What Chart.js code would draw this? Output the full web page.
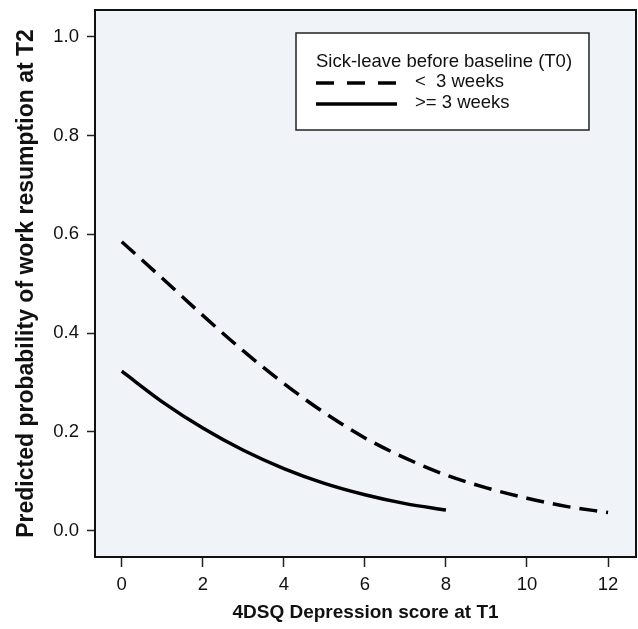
<!DOCTYPE html>
<html>
<head>
<meta charset="utf-8">
<script src="https://cdn.jsdelivr.net/npm/chart.js@4"></script>
<style>
  html, body { margin: 0; padding: 0; background: #fff; }
  #wrap { width: 638px; height: 629px; }
</style>
</head>
<body>
<div id="wrap"><canvas id="myChart" width="638" height="629"></canvas></div>
<script>
// depression score (T1)
const scoresShort = [0, 1, 2, 3, 4, 5, 6, 7, 8, 9, 10, 11, 12];
const probShort = [0.585, 0.511, 0.436, 0.364, 0.298, 0.239, 0.188, 0.147, 0.113, 0.087, 0.066, 0.049, 0.037];
const scoresLong = [0, 1, 2, 3, 4, 5, 6, 7, 8];
const probLong = [0.323, 0.261, 0.208, 0.163, 0.126, 0.096, 0.073, 0.055, 0.042];
const xTicks = [0, 2, 4, 6, 8, 10, 12];
const yTicks = [0.0, 0.2, 0.4, 0.6, 0.8, 1.0];
const legendTitle = 'Sick-leave before baseline (T0)';
const seriesLabels = ['<  3 weeks', '>= 3 weeks'];

const FONT = 'Arial, "Liberation Sans", sans-serif';

const toPoints = (xs, ys) => xs.map((x, i) => ({ x: x, y: ys[i] }));

// background + frame around the plot area, and the boxed legend
const framePlugin = {
  id: 'frame',
  beforeDraw(chart) {
    const { ctx, chartArea: a } = chart;
    ctx.save();
    ctx.fillStyle = '#f0f4f8';
    ctx.fillRect(a.left, a.top, a.right - a.left, a.bottom - a.top);
    ctx.restore();
  },
  afterDraw(chart) {
    const { ctx, chartArea: a } = chart;
    ctx.save();
    ctx.strokeStyle = '#111';
    ctx.lineWidth = 2;
    ctx.strokeRect(a.left, a.top, a.right - a.left, a.bottom - a.top);

    // legend box
    const bx = 296, by = 33, bw = 293, bh = 97;
    ctx.fillStyle = '#fff';
    ctx.fillRect(bx, by, bw, bh);
    ctx.lineWidth = 1.5;
    ctx.strokeStyle = '#222';
    ctx.strokeRect(bx, by, bw, bh);
    ctx.fillStyle = '#111';
    ctx.font = '18.5px ' + FONT;
    ctx.textBaseline = 'middle';
    ctx.fillText(legendTitle, 316, 62);
    ctx.lineWidth = 3.5;
    ctx.strokeStyle = '#000';
    ctx.setLineDash([18, 13]);
    ctx.beginPath(); ctx.moveTo(316, 83); ctx.lineTo(397, 83); ctx.stroke();
    ctx.setLineDash([]);
    ctx.beginPath(); ctx.moveTo(316, 104); ctx.lineTo(397, 104); ctx.stroke();
    ctx.fillText(seriesLabels[0], 415, 82);
    ctx.fillText(seriesLabels[1], 415, 103);
    ctx.restore();
  }
};

new Chart(document.getElementById('myChart').getContext('2d'), {
  type: 'line',
  data: {
    datasets: [{
      label: seriesLabels[0],
      data: toPoints(scoresShort, probShort),
      borderColor: '#000',
      borderWidth: 3.5,
      borderDash: [18, 9],
      pointRadius: 0,
      cubicInterpolationMode: 'monotone',
      fill: false
    }, {
      label: seriesLabels[1],
      data: toPoints(scoresLong, probLong),
      borderColor: '#000',
      borderWidth: 3.5,
      pointRadius: 0,
      cubicInterpolationMode: 'monotone',
      fill: false
    }]
  },
  options: {
    responsive: false,
    animation: false,
    devicePixelRatio: 1,
    layout: { padding: { top: 10, right: 2, left: 0, bottom: 0 } },
    plugins: {
      legend: { display: false },
      tooltip: { enabled: false }
    },
    scales: {
      x: {
        type: 'linear',
        min: -0.66,
        max: 12.69,
        afterBuildTicks: (s) => { s.ticks = xTicks.map(v => ({ value: v })); },
        afterFit: (s) => { s.height = 72; s.paddingLeft = 0; s.paddingRight = 0; },
        grid: { display: true, drawOnChartArea: false, drawTicks: true, tickLength: 10, tickColor: '#222', tickWidth: 1.5 },
        border: { display: false },
        ticks: { color: '#111', font: { family: FONT, size: 18.5 }, padding: 7, maxRotation: 0 },
        title: {
          display: true,
          text: '4DSQ Depression score at T1',
          color: '#111',
          font: { family: FONT, size: 19, weight: 'bold' },
          padding: { top: 4, bottom: 5 }
        }
      },
      y: {
        min: -0.053,
        max: 1.054,
        afterBuildTicks: (s) => { s.ticks = yTicks.map(v => ({ value: v })); },
        afterFit: (s) => { s.width = 95; s.paddingTop = 0; s.paddingBottom = 0; },
        grid: { display: true, drawOnChartArea: false, drawTicks: true, tickLength: 8, tickColor: '#222', tickWidth: 1.5 },
        border: { display: false },
        ticks: {
          color: '#111',
          font: { family: FONT, size: 18.5 },
          padding: 8,
          callback: (v) => Number(v).toFixed(1)
        },
        title: {
          display: true,
          text: 'Predicted probability of work resumption at T2',
          color: '#111',
          font: { family: FONT, size: 23, weight: 'bold' },
          padding: { top: 13, bottom: 4 }
        }
      }
    }
  },
  plugins: [framePlugin]
});
</script>
</body>
</html>
